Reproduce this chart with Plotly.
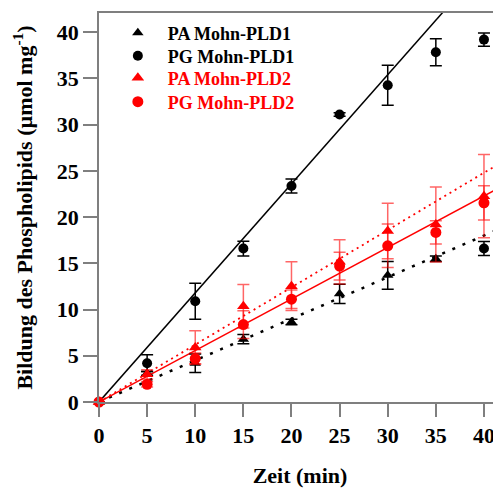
import plotly.graph_objects as go

# ---- data ----
time_min = [0, 5, 10, 15, 20, 25, 30, 35, 40]

pa_pld1 = [0, 3.1, 4.2, 6.8, 8.66, 11.7, 13.7, 15.5, 16.6]
pa_pld1_err = [0, 0.2, 1.0, 0.5, 0.3, 1.05, 1.5, 0.3, 0.75]

pg_pld1 = [0, 4.2, 10.9, 16.6, 23.36, 31.1, 34.26, 37.83, 39.2]
pg_pld1_err = [0, 0.9, 1.95, 0.8, 0.75, 0.2, 2.17, 1.46, 0.72]

pa_pld2 = [0, 3.0, 5.9, 10.36, 12.53, 15.16, 18.5, 19.2, 22.27]
pa_pld2_err = [0, 0.5, 1.8, 2.35, 2.63, 2.4, 3.0, 4.06, 4.5]

pg_pld2 = [0, 1.92, 4.7, 8.38, 11.12, 14.7, 16.9, 18.34, 21.55]
pg_pld2_err = [0, 0.3, 0.6, 1.5, 1.0, 1.5, 2.35, 1.26, 1.85]

# slopes of the regression lines through the origin
slope_pa_pld1 = 0.45
slope_pg_pld1 = 1.18
slope_pa_pld2 = 0.62
slope_pg_pld2 = 0.557

line_x = [0, 42]

names = ["PA Mohn-PLD1", "PG Mohn-PLD1", "PA Mohn-PLD2", "PG Mohn-PLD2"]
y_ticks = [0, 5, 10, 15, 20, 25, 30, 35, 40]
x_ticks = [0, 5, 10, 15, 20, 25, 30, 35, 40]

FONT = "Liberation Serif"
RED = "#ff0000"
RED_ERR = "rgba(255,0,0,0.6)"
AX = "#7f7f7f"

fig = go.Figure()

# regression lines
def add_line(slope, color, dash, width):
    fig.add_trace(go.Scatter(
        x=line_x, y=[slope * v for v in line_x], mode="lines",
        line=dict(color=color, dash=dash, width=width),
        showlegend=False, hoverinfo="skip"))

add_line(slope_pa_pld1, "black", "3px,8px", 2.5)
add_line(slope_pg_pld1, "black", "solid", 1.5)
add_line(slope_pa_pld2, RED, "2px,4px", 1.8)
add_line(slope_pg_pld2, RED, "solid", 1.5)

# data points, each entry in its own legend box so rows can be spaced tightly
pa1_symbols = ["triangle-up"] * 8 + ["circle"]
series = [
    (names[0], pa_pld1, pa_pld1_err, pa1_symbols, "black", "black", 10),
    (names[1], pg_pld1, pg_pld1_err, "circle", "black", "black", 10),
    (names[2], pa_pld2, pa_pld2_err, "triangle-up", RED, RED_ERR, 11),
    (names[3], pg_pld2, pg_pld2_err, "circle", RED, RED_ERR, 11),
]
legend_ids = ["legend", "legend2", "legend3", "legend4"]
legend_y = [0.9486, 0.8895, 0.8329, 0.7712]

for (name, ys, err, sym, col, ecol, size), lid in zip(series, legend_ids):
    fig.add_trace(go.Scatter(
        x=time_min, y=ys, mode="markers", name=name, legend=lid,
        marker=dict(symbol=sym, color=col, size=size),
        error_y=dict(type="data", array=err, color=ecol, thickness=1.5, width=6),
        cliponaxis=False))

legend_layout = {}
for (name, ys, err, sym, col, ecol, size), lid, ly in zip(series, legend_ids, legend_y):
    legend_layout[lid] = dict(
        x=0.022, y=ly, xanchor="left", yanchor="middle",
        font=dict(family=FONT, size=18, weight="bold", color=col),
        bgcolor="rgba(0,0,0,0)", itemwidth=50,
    )

# the page body has an 8px margin; the figure is sized so that the plot
# area ends at the right edge of the window like in the reference
fig.update_layout(
    width=493, height=480,
    margin=dict(l=91, r=0, t=5, b=86),
    plot_bgcolor="white", paper_bgcolor="white",
    font=dict(family=FONT, color="black", size=22),
    showlegend=True,
    xaxis=dict(
        range=[0, 41.77], tickvals=x_ticks, ticks="outside", ticklen=13,
        tickwidth=1.5, tickcolor=AX, showline=True, linecolor=AX, linewidth=1.5,
        mirror=True, showgrid=False, zeroline=False,
        tickfont=dict(family=FONT, size=22, weight="bold"),
        title=dict(text="Zeit (min)", font=dict(family=FONT, size=22, weight="bold"), standoff=22),
    ),
    yaxis=dict(
        range=[0, 42.08], tickvals=y_ticks, ticks="outside", ticklen=14,
        tickwidth=1.5, tickcolor=AX, showline=True, linecolor=AX, linewidth=1.5,
        showgrid=False, zeroline=False,
        tickfont=dict(family=FONT, size=22, weight="bold"),
        title=dict(text="Bildung des Phospholipids (µmol mg<sup>-1</sup>)",
                   font=dict(family=FONT, size=22, weight="bold"), standoff=18),
    ),
    **legend_layout,
)

fig.write_html("out.html")
